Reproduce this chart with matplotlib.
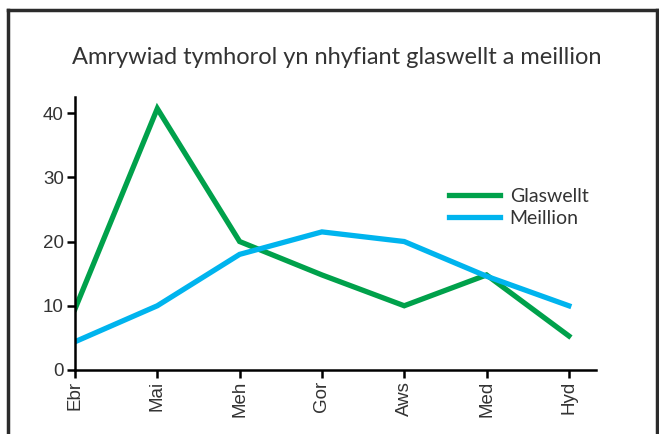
import matplotlib.pyplot as plt
from matplotlib.lines import Line2D

months = ['Ebr', 'Mai', 'Meh', 'Gor', 'Aws', 'Med', 'Hyd']
glaswellt = [9.5, 40.7, 20, 14.8, 10, 14.8, 5.3]
meillion = [4.4, 10, 18, 21.5, 20, 14.6, 10]

plt.rcParams['font.family'] = ['Lato', 'DejaVu Sans']

fig = plt.figure(figsize=(6.59, 4.34), dpi=100)
ax = fig.add_axes([75 / 659, 1 - 370 / 434, (596 - 75) / 659, (370 - 97) / 434])

x = range(len(months))
ax.plot(x, glaswellt, color='#00A14B', lw=3.8, label='Glaswellt', solid_joinstyle='miter')
ax.plot(x, meillion, color='#00B4EE', lw=3.8, label='Meillion', solid_joinstyle='miter')

ax.set_xlim(0, 6.33)
ax.set_ylim(0, 42.5)
ax.set_xticks(list(x))
ax.set_xticklabels(months, rotation=90)
ax.set_yticks([0, 10, 20, 30, 40])
ax.spines['top'].set_visible(False)
ax.spines['right'].set_visible(False)
for s in ['left', 'bottom']:
    ax.spines[s].set_linewidth(1.8)
ax.tick_params(width=1.8, length=6, labelsize=13.5, colors='black', labelcolor='#333333', pad=2)
for lab in ax.get_xticklabels() + ax.get_yticklabels():
    lab.set_family('Liberation Sans')

ax.legend(loc='center left', bbox_to_anchor=(0.685, 0.595), frameon=False,
          fontsize=14, handlelength=2.6, labelspacing=0.25, handletextpad=0.5,
          labelcolor='#333333')

fig.text(337 / 659, 1 - 57 / 434, 'Amrywiad tymhorol yn nhyfiant glaswellt a meillion',
         ha='center', va='center', fontsize=17, color='#333333')

# frame around the chart
frame_kw = dict(color='#2b2b2b', lw=2.5, transform=fig.transFigure)
fig.add_artist(Line2D([8 / 659, 657 / 659], [1 - 10 / 434, 1 - 10 / 434], **frame_kw))
fig.add_artist(Line2D([8 / 659, 8 / 659], [1 - 10 / 434, 0], **frame_kw))
fig.add_artist(Line2D([657 / 659, 657 / 659], [1 - 10 / 434, 0], **frame_kw))

fig.savefig('out.png', dpi=100)
